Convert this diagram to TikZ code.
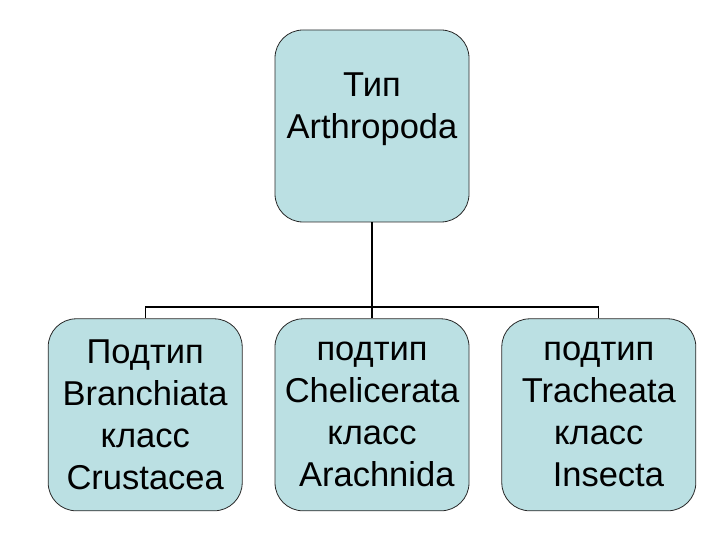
\documentclass[tikz,border=0pt]{standalone}
\usepackage{fontspec}
\setmainfont{Liberation Sans}
\usepackage{tikz}
\usetikzlibrary{positioning,calc}
\definecolor{taxblue}{RGB}{187,224,227}
\definecolor{taxedge}{RGB}{40,40,40}
\tikzset{
    taxbox/.style={rectangle, draw=taxedge, fill=taxblue, line width=0.8pt,
                   rounded corners=28pt, minimum width=194pt, minimum height=192pt,
                   align=center, inner sep=0pt,
                   font=\fontsize{34.5}{42}\selectfont},
    link/.style={draw=black, line width=1.3pt},
}
\begin{document}
\begin{tikzpicture}[x=1pt, y=-1pt, node distance=96pt and 32pt]
    \useasboundingbox (0,0) rectangle (720,540);
    \node[taxbox] (phylum) at (372,126) {Тип\hspace{0.28em}\\Arthropoda\\[-14pt]\strut};

    \node[taxbox, below=of phylum]      (chel)   {подтип\\Chelicerata\\класс\\\ Arachnida};
    \node[taxbox, left=of chel]         (branch) {Подтип\\Branchiata\\класс\\Crustacea};
    \node[taxbox, right=of chel]        (trach)  {подтип\\Tracheata\\класс\\\ \ Insecta};

    % tree connector
    \coordinate (hub) at ($(phylum.south)!0.88!(chel.north)$);
    \draw[link] (phylum.south) -- (hub);
    \draw[line width=2.8pt] (phylum.south) -- ++(0,61);
    \draw[link] (hub) -- (chel.north);
    \draw[link] (hub) -| (branch.north);
    \draw[link] (hub) -| (trach.north);
\end{tikzpicture}
\end{document}
